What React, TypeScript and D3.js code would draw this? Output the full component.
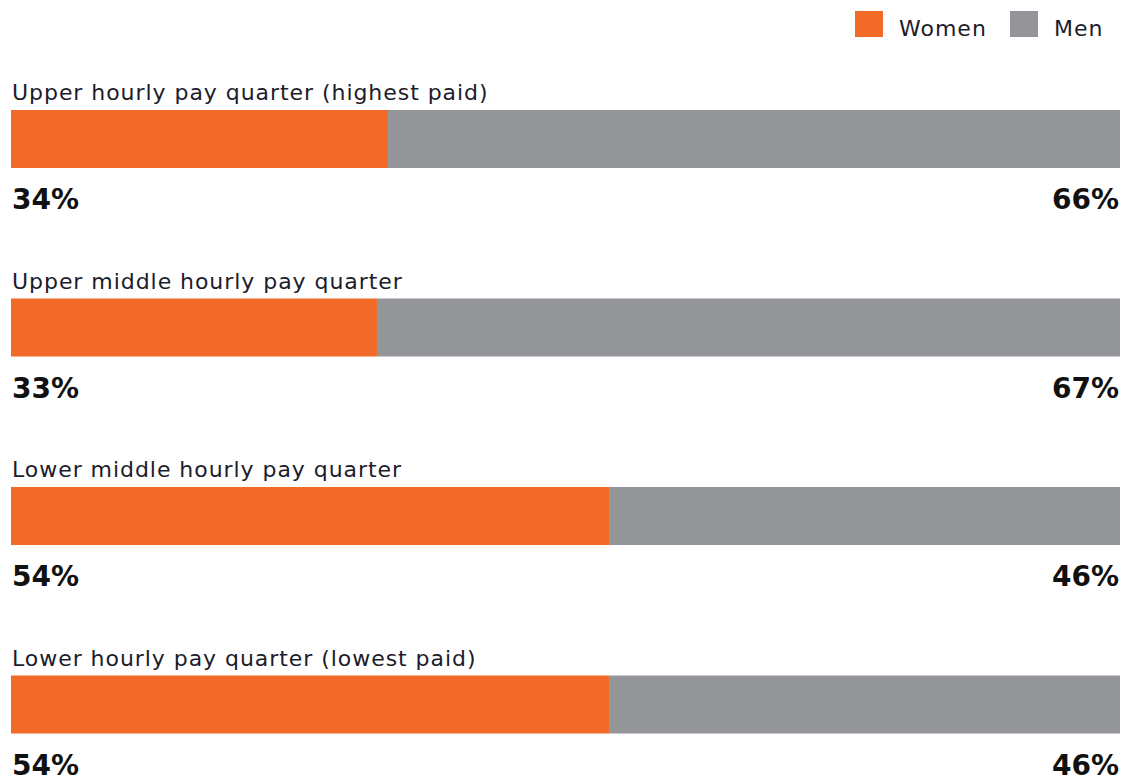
import React from "react";
import * as d3 from "d3";

const categories = [
  "Upper hourly pay quarter (highest paid)",
  "Upper middle hourly pay quarter",
  "Lower middle hourly pay quarter",
  "Lower hourly pay quarter (lowest paid)",
];
const women = [34, 33, 54, 54];
const men = [66, 67, 46, 46];
const seriesNames = ["Women", "Men"];
const colors = ["#F26A27", "#939598"];

export default function App() {
  const W = 1122;
  const H = 776;
  const x = d3.scaleLinear().domain([0, 100]).range([11, 1120]);
  const y = d3.scaleBand<string>().domain(categories).range([110, 110 + 4 * 188.5]);
  const barH = 58;
  const labelFont = "'DejaVu Sans', sans-serif";
  const pctFont = "'DejaVu Sans', sans-serif";
  return (
    <svg width={W} height={H} style={{ position: "absolute", left: 0, top: 0 }}>
      {seriesNames.map((s, i) => {
        const lx = [855, 1010][i];
        return (
          <g key={s}>
            <rect x={lx} y={11} width={28} height={26} fill={colors[i]} />
            <text x={lx + 44} y={36} fontFamily={labelFont} fontSize={22} letterSpacing={1} fill="#1c1c2b">
              {s}
            </text>
          </g>
        );
      })}
      {categories.map((c, i) => {
        const y0 = y(c)!;
        return (
          <g key={c}>
            <text x={12} y={y0 - 10} fontFamily={labelFont} fontSize={22} letterSpacing={0.95} fill="#1c1c2b">
              {c}
            </text>
            <rect x={x(0)} y={y0} width={x(women[i]) - x(0)} height={barH} fill={colors[0]} />
            <rect x={x(women[i])} y={y0} width={x(100) - x(women[i])} height={barH} fill={colors[1]} />
            <text x={12} y={y0 + barH + 41} fontFamily={pctFont} fontWeight="bold" fontSize={28} fill="#111">
              {women[i]}%
            </text>
            <text x={1119} y={y0 + barH + 41} textAnchor="end" fontFamily={pctFont} fontWeight="bold" fontSize={28} fill="#111">
              {men[i]}%
            </text>
          </g>
        );
      })}
    </svg>
  );
}
